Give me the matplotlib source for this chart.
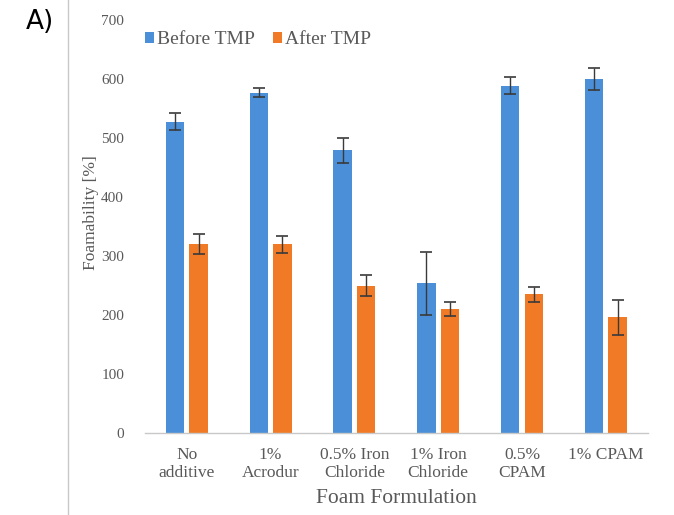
"""Foamability before and after TMP for each foam formulation."""

import numpy as np
import matplotlib.pyplot as plt
from matplotlib.lines import Line2D

formulations = [
    "No\nadditive",
    "1%\nAcrodur",
    "0.5% Iron\nChloride",
    "1% Iron\nChloride",
    "0.5%\nCPAM",
    "1% CPAM",
]
before_tmp = [528, 577, 479, 254, 589, 600]
before_err = [15, 8, 22, 53, 15, 18]
after_tmp = [320, 320, 250, 210, 235, 196]
after_err = [17, 14, 18, 12, 12, 30]
y_ticks = [0, 100, 200, 300, 400, 500, 600, 700]

BLUE = "#4a8fd8"
ORANGE = "#f07a25"
TEXT_GRAY = "#595959"

plt.rcParams["font.family"] = ["Liberation Serif", "DejaVu Serif"]

fig = plt.figure(figsize=(6.74, 5.15), dpi=100)
axis = fig.add_axes([0.215, 0.159, 0.746, 0.802])

x = np.arange(len(formulations))
bar_width = 0.22
offset = 0.14
err_style = dict(ecolor="#3a3a3a", elinewidth=1.0, capsize=4, capthick=1.2)

axis.bar(x - offset, before_tmp, bar_width, color=BLUE, label="Before TMP",
         yerr=before_err, error_kw=err_style, zorder=2)
axis.bar(x + offset, after_tmp, bar_width, color=ORANGE, label="After TMP",
         yerr=after_err, error_kw=err_style, zorder=2)

axis.set_xlim(-0.5, len(formulations) - 0.5)
axis.set_ylim(0, 700)
axis.set_yticks(y_ticks)
axis.set_xticks(x)
axis.set_xticklabels(formulations, fontsize=12.5, color=TEXT_GRAY, linespacing=1.15)
axis.tick_params(axis="y", labelsize=11, colors=TEXT_GRAY, length=0, pad=15)
axis.tick_params(axis="x", length=0, pad=10)

for side in ("top", "right", "left"):
    axis.spines[side].set_visible(False)
axis.spines["bottom"].set_color("#c8c8c8")
axis.spines["bottom"].set_linewidth(1.0)

axis.set_ylabel("Foamability [%]", fontsize=12.5, color=TEXT_GRAY)
axis.yaxis.set_label_coords(-0.092, 0.535)
axis.set_xlabel("Foam Formulation", fontsize=15.5, color=TEXT_GRAY, labelpad=6)

axis.legend(loc="center left", bbox_to_anchor=(0.0, 0.952), ncol=2, frameon=False,
            fontsize=14, handlelength=0.47, handleheight=0.47, handletextpad=0.15,
            columnspacing=0.95, borderpad=0, borderaxespad=0, labelcolor=TEXT_GRAY)

# panel border on the left and panel tag
fig.add_artist(Line2D([0.101, 0.101], [0.0, 1.0], color="#c8c8c8", linewidth=1.0))
fig.text(0.039, 0.958, "A)", fontsize=19, family="DejaVu Sans", color="black",
         va="center", ha="left")

fig.savefig("out.png", dpi=100)
